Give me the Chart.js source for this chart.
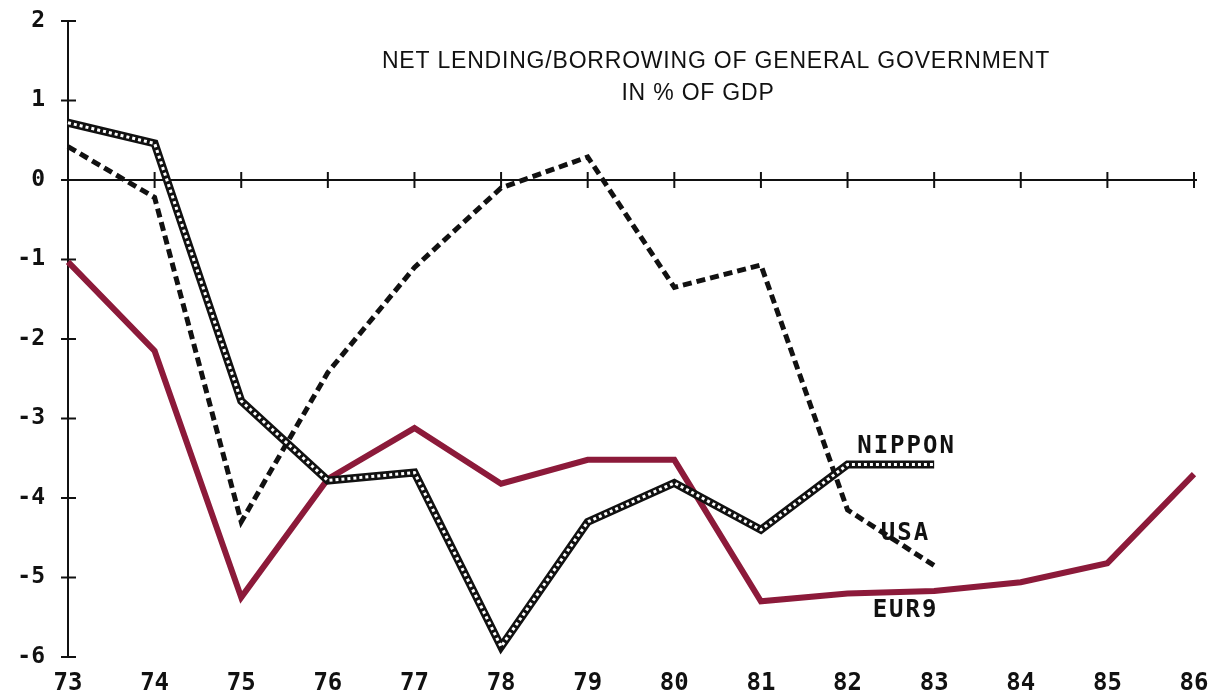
<!DOCTYPE html>
<html><head><meta charset="utf-8">
<script src="https://cdn.jsdelivr.net/npm/chart.js@4/dist/chart.umd.min.js"></script>
<style>html,body{margin:0;padding:0;background:#fff}#wrap{width:1214px;height:695px}</style>
</head><body><div id="wrap"><canvas id="c" width="1214" height="695"></canvas></div>
<script>
// ---- data ----
const years = ['73','74','75','76','77','78','79','80','81','82','83','84','85','86'];
const yTickValues = [2, 1, 0, -1, -2, -3, -4, -5, -6];
const eur9   = [-1.03, -2.15, -5.25, -3.76, -3.12, -3.82, -3.52, -3.52, -5.30, -5.20, -5.17, -5.06, -4.82, -3.70];
const usa    = [0.42, -0.22, -4.30, -2.42, -1.10, -0.10, 0.29, -1.35, -1.07, -4.15, -4.85];
const nippon = [0.72, 0.46, -2.78, -3.78, -3.68, -5.87, -4.30, -3.81, -4.40, -3.58, -3.58];
const seriesNames = ['EUR9', 'USA', 'NIPPON'];
const titleLines = ['NET LENDING/BORROWING OF GENERAL GOVERNMENT', 'IN % OF GDP'];

const monoFont = '"DejaVu Sans Mono", "Liberation Mono", monospace';

const axesPlugin = {
  id: 'crossAxes',
  beforeDatasetsDraw(chart) {
    const {ctx, chartArea: a, scales: {x, y}} = chart;
    ctx.save();
    ctx.strokeStyle = '#111';
    ctx.lineWidth = 2;
    ctx.beginPath();
    ctx.moveTo(a.left, y.getPixelForValue(yTickValues[0]));
    ctx.lineTo(a.left, y.getPixelForValue(yTickValues[yTickValues.length - 1]));
    ctx.stroke();
    yTickValues.forEach(v => {
      const py = y.getPixelForValue(v);
      ctx.beginPath(); ctx.moveTo(a.left - 7, py); ctx.lineTo(a.left + 8, py); ctx.stroke();
    });
    const y0 = y.getPixelForValue(0);
    ctx.beginPath(); ctx.moveTo(a.left, y0); ctx.lineTo(a.right + 3, y0); ctx.stroke();
    years.forEach((_, i) => {
      const px = x.getPixelForValue(i);
      ctx.beginPath(); ctx.moveTo(px, y0 - 8); ctx.lineTo(px, y0 + 8); ctx.stroke();
    });
    ctx.restore();
  }
};

const textPlugin = {
  id: 'texts',
  afterDraw(chart, args, opts) {
    const {ctx, scales: {x, y}} = chart;
    ctx.save();
    ctx.fillStyle = '#111';
    ctx.font = '23px "Liberation Sans", Arial, sans-serif';
    ctx.textAlign = 'center';
    ctx.textBaseline = 'alphabetic';
    ctx.letterSpacing = '0.8px';
    opts.title.forEach((t, i) => ctx.fillText(titleLines[i], t[0], t[1]));
    ctx.font = 'bold 24px ' + monoFont;
    ctx.letterSpacing = '2px';
    ctx.textBaseline = 'middle';
    chart.data.datasets.forEach(ds => {
      if (!ds.seriesLabel) return;
      const off = opts.labelOffsets[ds.label];
      const px = x.getPixelForValue(opts.anchorIndex) + off[0];
      const py = y.getPixelForValue(ds.data[opts.anchorIndex]) + off[1];
      ctx.fillText(ds.label, px, py);
    });
    ctx.restore();
  }
};

new Chart(document.getElementById('c'), {
  type: 'line',
  data: {
    labels: years,
    datasets: [
      {label: seriesNames[2] + ' inner', data: nippon, borderColor: '#ffffff', borderWidth: 3,
       borderDash: [3, 3], pointRadius: 0, tension: 0, order: 0},
      {label: seriesNames[2], seriesLabel: true, data: nippon, borderColor: '#111', borderWidth: 8,
       pointRadius: 0, tension: 0, order: 1},
      {label: seriesNames[1], seriesLabel: true, data: usa, borderColor: '#111', borderWidth: 5,
       borderDash: [9, 5], borderCapStyle: 'butt', pointRadius: 0, tension: 0, order: 2},
      {label: seriesNames[0], seriesLabel: true, data: eur9, borderColor: '#8c1a3a', borderWidth: 6,
       pointRadius: 0, tension: 0, order: 3}
    ]
  },
  options: {
    responsive: false,
    animation: false,
    layout: {padding: {top: 21, right: 20, left: 0, bottom: 0}},
    plugins: {
      legend: {display: false},
      tooltip: {enabled: false},
      texts: {
        title: [[716, 68], [698, 100]],
        anchorIndex: 9,
        labelOffsets: {NIPPON: [59, -18], USA: [58, 24], EUR9: [58, 17]}
      }
    },
    scales: {
      x: {
        type: 'category', offset: false,
        grid: {display: true, drawOnChartArea: false, drawTicks: true, tickLength: 12,
               tickColor: 'rgba(0,0,0,0)', color: 'rgba(0,0,0,0)'},
        border: {display: false},
        ticks: {color: '#111', font: {family: monoFont, size: 24, weight: 'bold'}, padding: 0,
                maxRotation: 0, autoSkip: false},
        afterFit: s => { s.height = 38; }
      },
      y: {
        min: -6, max: 2,
        afterBuildTicks: s => { s.ticks = yTickValues.map(v => ({value: v})); },
        grid: {display: true, drawOnChartArea: false, drawTicks: true, tickLength: 20,
               tickColor: 'rgba(0,0,0,0)', color: 'rgba(0,0,0,0)'},
        border: {display: false},
        ticks: {color: '#111', font: {family: monoFont, size: 23, weight: 'bold'}, padding: 3,
                callback: v => String(v)},
        afterFit: s => { s.width = 68; }
      }
    }
  },
  plugins: [axesPlugin, textPlugin]
});
</script>
</body></html>
